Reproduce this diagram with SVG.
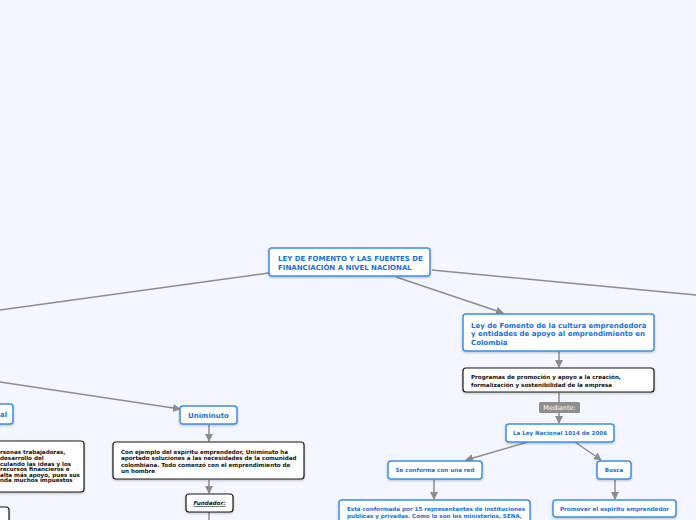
<svg xmlns="http://www.w3.org/2000/svg" width="696" height="520" viewBox="0 0 696 520">
<defs>
<marker id="ah" markerWidth="8" markerHeight="8" refX="7" refY="4" orient="auto" markerUnits="userSpaceOnUse">
<path d="M0,0 L8,4 L0,8 z" fill="#8c8c8c"/>
</marker>
<filter id="sh" x="-5%" y="-5%" width="110%" height="130%">
<feDropShadow dx="0" dy="1" stdDeviation="0.8" flood-color="#000" flood-opacity="0.25"/>
</filter>
</defs>
<style>
.bl{fill:#fff;stroke:#3b8fe8;stroke-width:1.5;filter:url(#sh)}
.bk{fill:#fff;stroke:#1a1a1a;stroke-width:1.2;filter:url(#sh)}
.tb{font-family:"DejaVu Sans",Verdana,sans-serif;font-weight:bold;fill:#1d6fd6}
.tk{font-family:"DejaVu Sans",Verdana,sans-serif;font-weight:bold;fill:#111}
.c{stroke:#8c8c8c;stroke-width:1.5;fill:none}
</style>
<rect width="696" height="520" fill="#f3f6fe"/>
<g id="connectors">
<path class="c" d="M269,273 L0,310"/>
<path class="c" d="M432,270 L696,295"/>
<path class="c" d="M396,277 L503,313" marker-end="url(#ah)"/>
<path class="c" d="M559,351 L559,367" marker-end="url(#ah)"/>
<path class="c" d="M559,393 L559,402"/>
<path class="c" d="M559,413 L559,423" marker-end="url(#ah)"/>
<path class="c" d="M528,442 L466,460" marker-end="url(#ah)"/>
<path class="c" d="M575,442 L601,460" marker-end="url(#ah)"/>
<path class="c" d="M615,480 L615,499" marker-end="url(#ah)"/>
<path class="c" d="M434,480 L434,499" marker-end="url(#ah)"/>
<path class="c" d="M0,382 L180,409" marker-end="url(#ah)"/>
<path class="c" d="M209,425 L209,441" marker-end="url(#ah)"/>
<path class="c" d="M209,480 L209,493" marker-end="url(#ah)"/>
<path class="c" d="M209,512 L209,520"/>
</g>
<g id="central">
<rect class="bl" x="269" y="248" width="161" height="28" rx="3"/>
<text class="tb" font-size="7" x="278" y="261">LEY DE FOMENTO Y LAS FUENTES DE</text>
<text class="tb" font-size="7" x="278" y="270">FINANCIACIÓN A NIVEL NACIONAL</text>
</g>
<g id="ley-fomento">
<rect class="bl" x="463" y="314" width="191" height="37" rx="3"/>
<text class="tb" font-size="7" x="471" y="328">Ley de Fomento de la cultura emprendedora</text>
<text class="tb" font-size="7" x="471" y="336">y entidades de apoyo al emprendimiento en</text>
<text class="tb" font-size="7" x="471" y="345">Colombia</text>
</g>
<g id="programas">
<rect class="bk" x="463" y="368" width="191" height="24" rx="3"/>
<text class="tk" font-size="5.6" x="471" y="379">Programas de promoción y apoyo a la creación,</text>
<text class="tk" font-size="5.6" x="471" y="387">formalización y sostenibilidad de la empresa</text>
</g>
<g id="mediante">
<rect x="539" y="402" width="41" height="11" rx="1.5" fill="#8e8e8e"/>
<text font-family="DejaVu Sans,Verdana,sans-serif" font-size="6.5" fill="#fff" x="559.5" y="410" text-anchor="middle">Mediante:</text>
</g>
<g id="ley-1014">
<rect class="bl" x="506" y="424" width="108" height="18" rx="3"/>
<text class="tb" font-size="5.6" x="560" y="435" text-anchor="middle">La Ley Nacional 1014 de 2006</text>
</g>
<g id="red">
<rect class="bl" x="388" y="461" width="94" height="18" rx="3"/>
<text class="tb" font-size="5.6" x="435" y="472" text-anchor="middle">Se conforma con una red</text>
</g>
<g id="busca">
<rect class="bl" x="597" y="461" width="34" height="18" rx="3"/>
<text class="tb" font-size="5.6" x="614" y="472" text-anchor="middle">Busca</text>
</g>
<g id="promover">
<rect class="bl" x="553" y="500" width="123" height="17" rx="3"/>
<text class="tb" font-size="5.6" x="614.5" y="511" text-anchor="middle">Promover el espiritu emprendedor</text>
</g>
<g id="conformada">
<rect class="bl" x="339" y="500" width="191" height="30" rx="3"/>
<text class="tb" font-size="5.6" x="347" y="511">Está conformada por 15 representantes de instituciones</text>
<text class="tb" font-size="5.6" x="347" y="518">publicas y privadas. Como lo son los ministerios, SENA,</text>
</g>
<g id="uniminuto">
<rect class="bl" x="180" y="406" width="57" height="18" rx="3"/>
<text class="tb" font-size="7" x="208.5" y="418" text-anchor="middle">Uniminuto</text>
</g>
<g id="uniminuto-desc">
<rect class="bk" x="113" y="442" width="191" height="37" rx="3"/>
<text class="tk" font-size="5.6" x="121" y="454">Con ejemplo del espíritu emprendedor, Uniminuto ha</text>
<text class="tk" font-size="5.6" x="121" y="460">aportado soluciones a las necesidades de la comunidad</text>
<text class="tk" font-size="5.6" x="121" y="467">colombiana. Todo comenzó con el emprendimiento de</text>
<text class="tk" font-size="5.6" x="121" y="473">un hombre</text>
</g>
<g id="fundador">
<rect class="bk" x="186" y="494" width="47" height="18" rx="3"/>
<text class="tk" font-size="5.6" font-style="italic" text-decoration="underline" x="209.5" y="505" text-anchor="middle">Fundador:</text>
</g>
<g id="left-node">
<rect class="bl" x="-40" y="404" width="53" height="20" rx="3"/>
<text class="tb" font-size="7" x="0" y="417">al</text>
</g>
<g id="left-desc">
<rect class="bk" x="-120" y="441" width="204" height="51" rx="3"/>
<text class="tk" font-size="5.6" x="0" y="454">rsonas trabajadoras,</text>
<text class="tk" font-size="5.6" x="0" y="460">desarrollo del</text>
<text class="tk" font-size="5.6" x="0" y="466">culando las ideas y los</text>
<text class="tk" font-size="5.6" x="0" y="471">recursos financieros e</text>
<text class="tk" font-size="5.6" x="0" y="477">alta más apoyo, pues sus</text>
<text class="tk" font-size="5.6" x="0" y="482">nda muchos impuestos</text>
</g>
<g id="left-small">
<rect class="bk" x="-40" y="507" width="49" height="20" rx="3"/>
</g>
</svg>
